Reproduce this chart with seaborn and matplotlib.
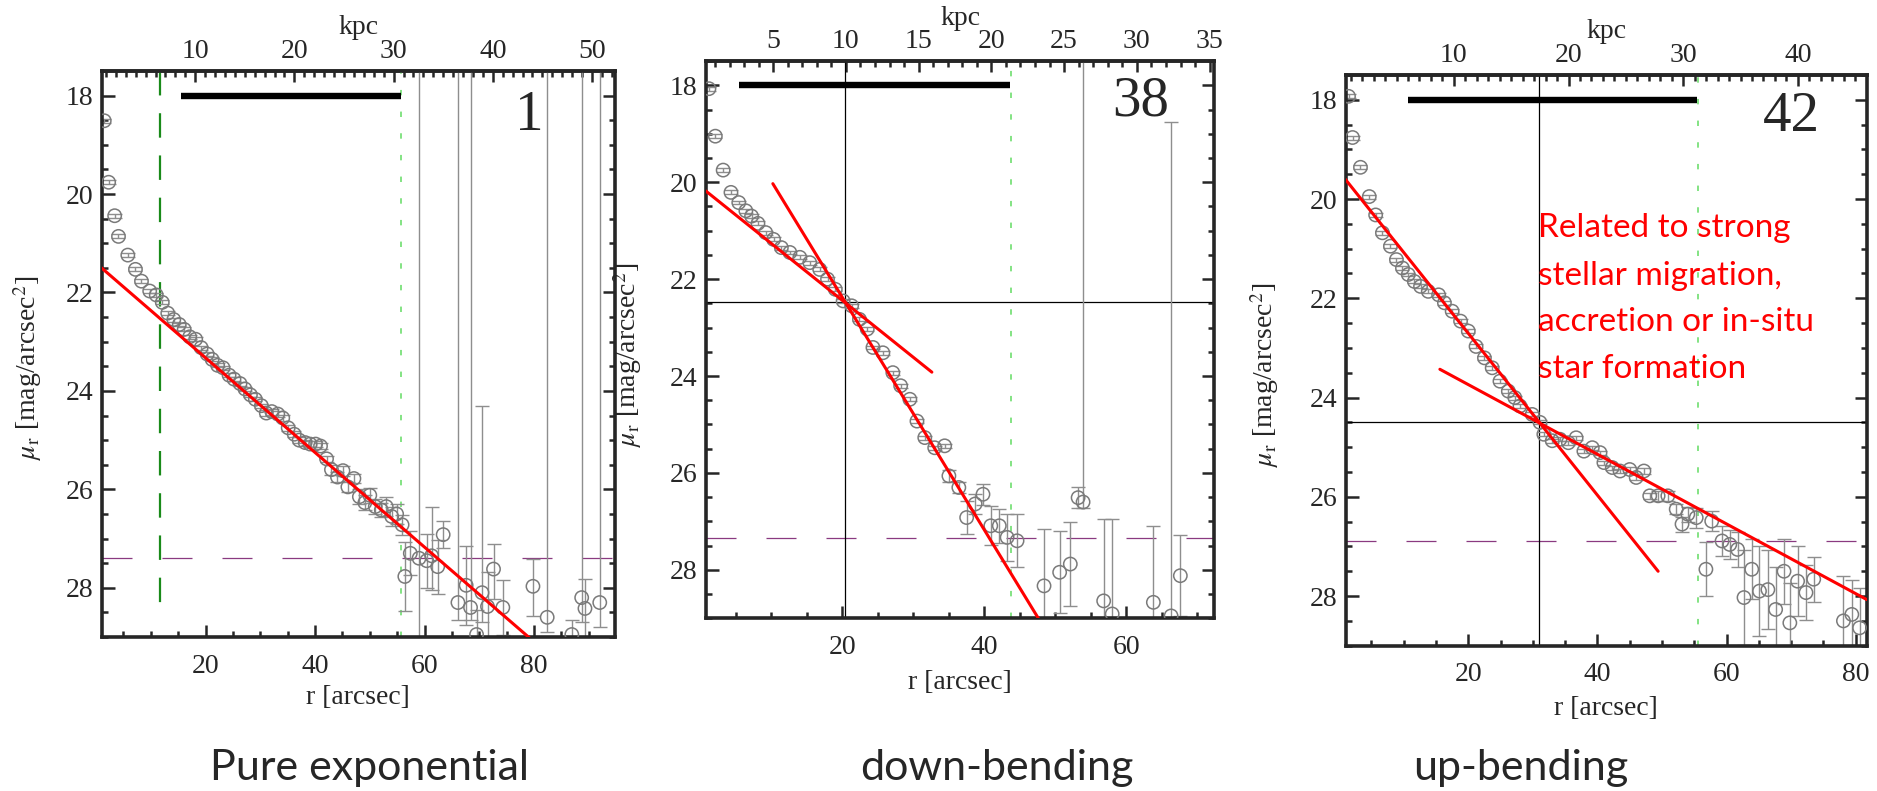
import matplotlib
matplotlib.use("Agg")
import matplotlib.pyplot as plt
from matplotlib.ticker import MultipleLocator, FixedLocator
import seaborn as sns

# ---------------- data ----------------
panel_ids = ["1", "38", "42"]
captions = ["Pure exponential", "down-bending", "up-bending"]
kpc_per_arcsec = [0.552, 0.488, 0.563]
kpc_ticks = [[10, 20, 30, 40, 50], [5, 10, 15, 20, 25, 30, 35], [10, 20, 30, 40]]
x_limits = [(1.04, 94.7), (0.75, 72.4), (1.0, 81.7)]
y_limits = (29.0, 17.5)

# panel 1 (pure exponential)
r1 = [1.5, 2.3, 3.4, 4.1, 5.8, 7.2, 8.3, 9.8, 11.0, 12.1, 13.1, 14.2, 15.2, 16.1, 17.1,
      18.2, 19.2, 20.3, 21.2, 22.2, 23.2, 24.3, 25.2, 26.3, 27.2, 28.2, 29.1, 30.2, 31.1,
      32.1, 33.2, 34.1, 35.1, 36.2, 37.1, 38.2, 39.1, 40.1, 41.0, 42.1, 43.0, 44.1, 45.1,
      46.0, 47.1, 48.1, 49.1, 50.0, 51.0, 52.1, 53.0, 54.0, 54.9, 55.9,
      56.4, 57.4, 59.0, 60.4, 61.3, 62.4, 63.4, 66.1, 67.6, 68.4, 69.5, 70.5, 71.5, 72.6,
      74.3, 79.8, 82.4, 86.9, 88.7, 89.3, 92.0]
mu1 = [18.51, 19.76, 20.44, 20.86, 21.24, 21.53, 21.77, 21.97, 22.05, 22.20, 22.42, 22.55,
       22.65, 22.75, 22.90, 22.95, 23.12, 23.25, 23.36, 23.48, 23.53, 23.68, 23.76, 23.85,
       23.96, 24.08, 24.17, 24.30, 24.45, 24.42, 24.47, 24.55, 24.75, 24.88, 25.00, 25.05,
       25.08, 25.08, 25.12, 25.38, 25.60, 25.75, 25.62, 25.95, 25.78, 26.15, 26.27, 26.12,
       26.35, 26.42, 26.35, 26.55, 26.50, 26.72,
       27.77, 27.30, 27.40, 27.45, 27.35, 27.57, 26.92, 28.30, 27.95, 28.40, 28.95, 28.10,
       28.38, 27.62, 28.40, 27.97, 28.60, 28.95, 28.20, 28.42, 28.30]
e1_lo = [0.04] * 28 + [0.06] * 12 + [0.10] * 5 + [0.15] * 5 + [0.20] * 4 + \
        [0.71, 0.45, 15.0, 0.55, 1.00, 0.55, 0.27, 15.0, 0.80, 15.0, 0.50, 3.80, 0.70, 0.50,
         0.55, 0.55, 15.0, 0.30, 15.0, 0.60, 15.0]
e1_hi = [0.04] * 28 + [0.06] * 12 + [0.10] * 5 + [0.15] * 5 + [0.20] * 4 + \
        [0.71, 0.45, 1.60, 0.55, 0.70, 0.55, 0.27, 0.35, 0.80, 0.25, 0.50, 0.60, 0.70, 0.60,
         0.55, 0.60, 0.30, 0.30, 0.50, 0.60, 0.50]

# panel 2 (down-bending)
r2 = [1.2, 2.1, 3.2, 4.3, 5.4, 6.4, 7.2, 8.1, 9.2, 10.3, 11.4, 12.6, 14.0, 15.4, 16.8,
      17.9, 19.0, 20.1, 21.3, 22.4, 23.5, 24.3, 25.7, 27.1, 28.2, 29.5, 30.5, 31.6, 33.0,
      34.4, 35.0, 36.4, 37.5, 38.7, 39.8, 40.9, 42.1, 43.2, 44.6,
      48.4, 50.6, 52.1, 53.2, 53.9, 56.8, 58.0, 63.8, 66.3, 67.6]
mu2 = [18.07, 19.05, 19.75, 20.21, 20.42, 20.59, 20.70, 20.85, 21.04, 21.18, 21.35, 21.45,
       21.55, 21.66, 21.80, 22.00, 22.21, 22.45, 22.55, 22.83, 23.03, 23.41, 23.52, 23.93,
       24.20, 24.48, 24.93, 25.27, 25.48, 25.44, 26.06, 26.30, 26.92, 26.64, 26.44, 27.09,
       27.09, 27.33, 27.40,
       28.33, 28.05, 27.88, 26.51, 26.60, 28.64, 28.91, 28.67, 28.95, 28.12]
e2_lo = [0.04] * 30 + [0.12, 0.12, 0.34, 0.20, 0.22, 0.40, 0.35, 0.48, 0.55,
                       1.17, 0.85, 0.86, 0.22, 15.0, 1.70, 1.95, 1.58, 10.2, 0.84]
e2_hi = [0.04] * 30 + [0.12, 0.12, 0.34, 0.20, 0.22, 0.40, 0.35, 0.48, 0.55,
                       1.17, 0.85, 0.86, 0.22, 0.12, 1.70, 1.00, 1.58, 0.30, 0.84]

# panel 3 (up-bending)
r3 = [1.45, 2.07, 3.3, 4.66, 5.65, 6.7, 7.94, 8.87, 9.8, 10.7, 11.65, 12.6, 13.8, 15.4,
      16.3, 17.5, 18.8, 20.0, 21.2, 22.5, 23.7, 24.9, 26.2, 27.2, 28.0, 29.9, 31.1, 31.7,
      33.0, 34.2, 35.5, 36.7, 37.9, 39.2, 40.4, 41.0, 42.3, 43.5, 45.0, 46.0, 47.2, 48.1,
      49.4, 50.9, 52.2, 53.1, 54.0, 55.3, 56.8, 57.7, 59.3, 60.5, 61.7, 62.7, 63.9, 65.1,
      66.4, 67.6, 68.9, 69.8, 71.0, 72.3, 73.5, 78.1, 79.4, 80.6]
mu3 = [17.93, 18.76, 19.36, 19.95, 20.32, 20.68, 20.95, 21.22, 21.39, 21.52, 21.66, 21.76,
       21.86, 21.93, 22.09, 22.26, 22.46, 22.66, 22.97, 23.20, 23.40, 23.67, 23.87, 24.00,
       24.17, 24.34, 24.50, 24.74, 24.87, 24.84, 24.91, 24.81, 25.08, 25.01, 25.11, 25.31,
       25.41, 25.48, 25.45, 25.61, 25.48, 25.98, 25.98, 25.98, 26.25, 26.55, 26.35, 26.42,
       27.46, 26.49, 26.89, 26.96, 27.06, 28.03, 27.46, 27.90, 27.87, 28.27, 27.50, 28.54,
       27.70, 27.93, 27.66, 28.50, 28.37, 28.64]
e3 = [0.04] * 38 + [0.06] * 4 + [0.10] * 3 + [0.15, 0.15, 0.20, 0.54, 0.20, 0.30,
                                              0.30, 0.35, 0.95, 0.60, 0.90, 0.80, 0.85,
                                              0.65, 0.80, 0.70, 0.55, 0.45, 0.90, 0.70, 0.80]

radii = [r1, r2, r3]
mags = [mu1, mu2, mu3]
err_lo = [e1_lo, e2_lo, e3]
err_hi = [e1_hi, e2_hi, e3]

# fitted exponential segments (endpoints in r [arcsec], mu)
fits = [
    [([1.0, 79.5], [21.5, 29.05])],
    [([0.75, 32.6], [20.18, 23.92]), ([10.2, 47.6], [20.03, 29.0])],
    [([0.95, 49.4], [19.6, 27.5]), ([15.6, 81.7], [23.43, 28.07])],
]
break_r = [None, 20.4, 31.0]
break_mu = [None, 22.47, 24.5]
inner_limit_r = [11.6, None, None]          # green dashed
inner_limit_mu = (17.5, 28.4)
outer_limit_r = [55.7, 43.7, 55.6]          # light-green dotted
sky_limit_mu = [27.39, 27.34, 26.89]        # purple dashed
bar_r = [(15.5, 55.7), (5.5, 43.6), (10.6, 55.4)]
bar_mu = 18.0
note_lines = ["Related to strong", "stellar migration,", "accretion or in-situ", "star formation"]

# ---------------- style ----------------
sns.set_style("ticks")
plt.rcParams["font.family"] = ["Liberation Serif", "DejaVu Serif"]
plt.rcParams["mathtext.fontset"] = "stix"

fig = plt.figure(figsize=(18.77, 7.91), dpi=100)
positions = [
    [0.0542, 0.1947, 0.2732, 0.7155],
    [0.3760, 0.2183, 0.2710, 0.7045],
    [0.7169, 0.1837, 0.2776, 0.7215],
]
ylabel_xy = [(-0.112, 0.475), (-0.121, 0.473), (-0.124, 0.474)]
xlabel_y = [-0.085, -0.093, -0.088]
num_xy = [(0.833, 0.896), (0.855, 0.903), (0.856, 0.901)]
cap_xy = [(0.197, 0.0145), (0.531, 0.0140), (0.810, 0.0145)]

grey = "#7a7a7a"
for i in range(3):
    ax = fig.add_axes(positions[i])
    ax.set_xlim(*x_limits[i])
    ax.set_ylim(*y_limits)

    # reference lines
    ax.axhline(sky_limit_mu[i], color="#8a3a80", lw=0.9, ls=(0, (24, 24)), zorder=1)
    ax.axvline(outer_limit_r[i], color="#79e079", lw=1.3, ls=(0, (3, 9)), zorder=1)
    if inner_limit_r[i] is not None:
        ax.plot([inner_limit_r[i]] * 2, list(inner_limit_mu), color="#1a8a1a", lw=1.6,
                ls=(0, (11, 8)), zorder=1)
    if break_r[i] is not None:
        ax.axvline(break_r[i], color="black", lw=0.9, zorder=1)
        ax.axhline(break_mu[i], color="black", lw=0.9, zorder=1)
    ax.plot(list(bar_r[i]), [bar_mu, bar_mu], color="black", lw=4.6,
            solid_capstyle="butt", zorder=4)

    # profile
    ax.errorbar(radii[i], mags[i], yerr=[err_lo[i], err_hi[i]], fmt="none",
                ecolor="#8e8e8e", elinewidth=1.0, capsize=5, capthick=1.0, zorder=2)
    sns.scatterplot(x=radii[i], y=mags[i], ax=ax, marker="o", s=92,
                    facecolor="none", edgecolor=grey, linewidth=1.1, zorder=3,
                    legend=False)
    for fr, fm in fits[i]:
        sns.lineplot(x=fr, y=fm, ax=ax, color="red", lw=2.2, sort=False,
                     estimator=None, zorder=5)

    # axes cosmetics
    for sp in ax.spines.values():
        sp.set_linewidth(2.6)
        sp.set_visible(True)
    ax.xaxis.set_major_locator(MultipleLocator(20))
    ax.xaxis.set_minor_locator(MultipleLocator(5))
    ax.yaxis.set_major_locator(MultipleLocator(2))
    ax.yaxis.set_minor_locator(MultipleLocator(0.5))
    ax.tick_params(which="both", direction="in", top=False, right=True,
                   labelsize=20, width=1.8)
    ax.tick_params(which="major", length=9)
    ax.tick_params(which="minor", length=4.5)
    ax.tick_params(axis="x", pad=12)
    ax.tick_params(axis="y", pad=6)
    ax.set_xlabel("r [arcsec]", fontsize=20)
    ax.xaxis.set_label_coords(0.5, xlabel_y[i])
    ax.set_ylabel(r"$\mu_\mathrm{r}$ [mag/arcsec$^\mathrm{2}$]", fontsize=20)
    ax.yaxis.set_label_coords(*ylabel_xy[i])

    k = kpc_per_arcsec[i]
    sec = ax.secondary_xaxis("top", functions=(lambda r, k=k: r * k,
                                               lambda d, k=k: d / k))
    sec.xaxis.set_major_locator(FixedLocator(kpc_ticks[i]))
    sec.xaxis.set_minor_locator(MultipleLocator(1))
    sec.tick_params(which="both", direction="in", labelsize=20, width=1.8, pad=5)
    sec.tick_params(which="major", length=8)
    sec.tick_params(which="minor", length=4)
    sec.spines["top"].set_linewidth(2.6)
    ax.text(0.5, 1.077, "kpc", transform=ax.transAxes, ha="center", va="center",
            fontsize=20)

    ax.text(num_xy[i][0], num_xy[i][1], panel_ids[i], transform=ax.transAxes,
            ha="center", va="baseline", fontsize=41)
    fig.text(cap_xy[i][0], cap_xy[i][1], captions[i], ha="center", va="baseline",
             fontsize=31, family="Lato")

    if i == 2:
        baselines = [0.716, 0.632, 0.551, 0.469]
        for line, yb in zip(note_lines, baselines):
            ax.text(0.37, yb, line, transform=ax.transAxes, color="red",
                    fontsize=24, family="Lato", ha="left", va="baseline", zorder=6)

fig.savefig("out.png", dpi=100)
